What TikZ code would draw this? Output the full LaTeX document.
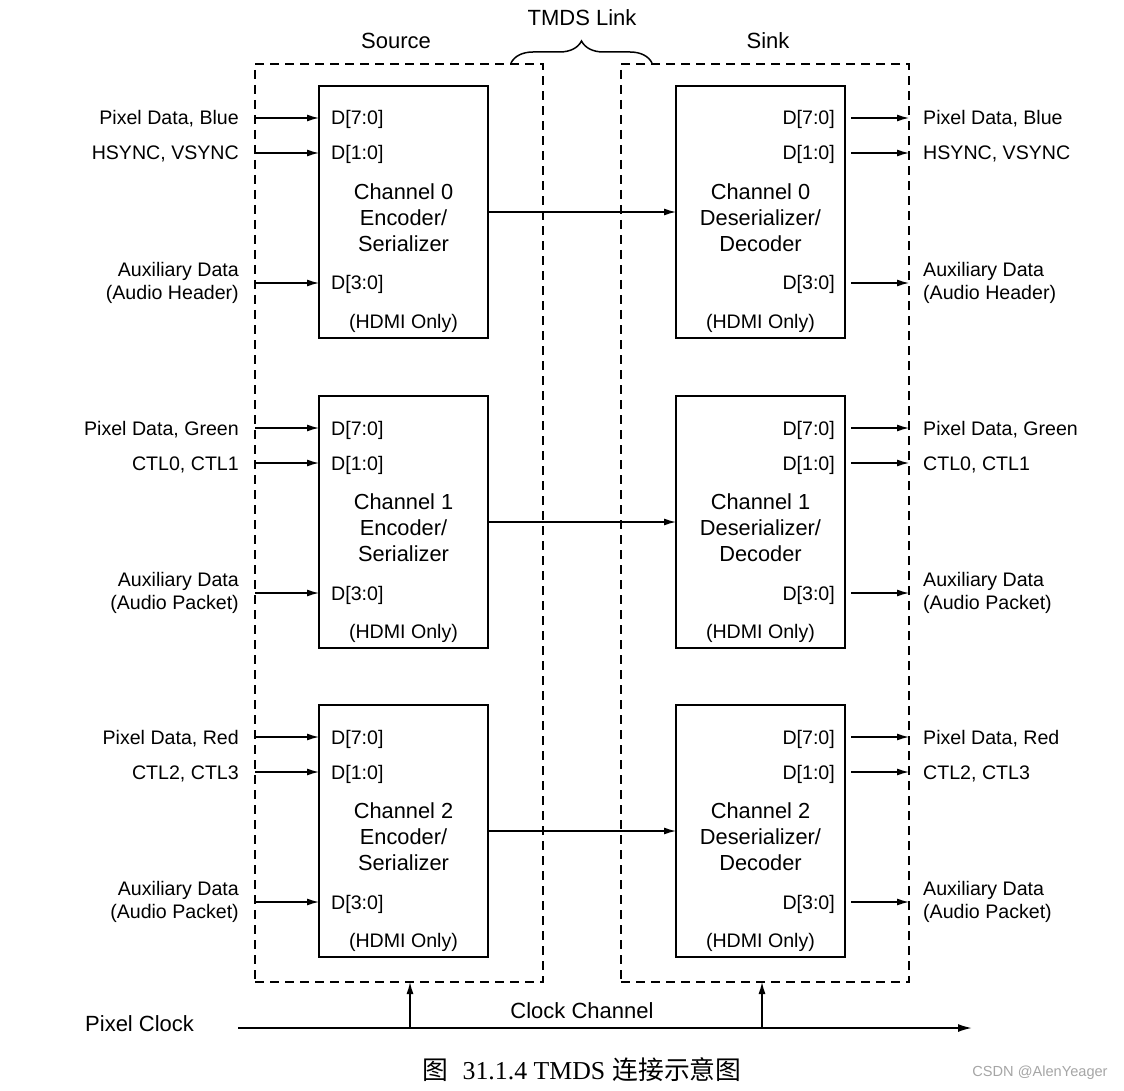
\documentclass[tikz,border=0pt]{standalone}
\usepackage{fontspec}
\setmainfont{Liberation Sans}
\newfontfamily\capserif{Liberation Serif}
\newfontfamily\cjk{Noto Sans CJK SC}
\usetikzlibrary{arrows.meta,decorations.pathreplacing}
\begin{document}
\begin{tikzpicture}[x=1pt,y=-1pt,
  chbox/.style={draw,line width=2.4pt,minimum width=169pt,minimum height=252pt,inner sep=0pt,outer sep=0pt,anchor=north west},
  dbox/.style={draw,line width=2pt,dash pattern=on 9pt off 6pt,minimum width=288pt,minimum height=918pt,inner sep=0pt,outer sep=0pt,anchor=north west},
  sig/.style={-{Latex[length=12pt,width=7pt]},line width=1.3pt},
  lbl/.style={font=\fontsize{19.6}{23}\selectfont,inner sep=0pt,text height=14pt,text depth=0pt},
  lbltwo/.style={font=\fontsize{19.6}{23}\selectfont,inner sep=0pt},
  chtxt/.style={font=\fontsize{21.8}{26}\selectfont,align=center,inner sep=0pt},
  ttl/.style={font=\fontsize{22}{26}\selectfont,inner sep=0pt,text height=16pt,text depth=0pt}]
\useasboundingbox (0,0) rectangle (1124,1091);
\fill[white] (0,0) rectangle (1124,1091);

% outer dashed boxes
\node[dbox] (src) at (255,64) {};
\node[dbox] (snk) at (621,64) {};
\node[ttl] (srct) at (396,41) {Source};
\node[ttl] (snkt) at (768,41) {Sink};
\node[ttl] (tmds) at (582,18) {TMDS Link};
\coordinate (bl) at (511,63);
\coordinate (br) at (652,63);
\draw[line width=1.5pt,decorate,decoration={brace,amplitude=22pt,aspect=0.5}] (bl) -- (br);

\foreach \i/\t/\pa/\pb/\au in {0/86/{Pixel Data, Blue}/{HSYNC, VSYNC}/Header,
                               1/396/{Pixel Data, Green}/{CTL0, CTL1}/Packet,
                               2/705/{Pixel Data, Red}/{CTL2, CTL3}/Packet}{
  % channel boxes
  \node[chbox] (s\i) at (319,\t) {};
  \node[chbox] (k\i) at (676,\t) {};
  \node[chtxt] (st\i) at (403.5,\t+132) {Channel \i\\Encoder/\\Serializer};
  \node[chtxt] (kt\i) at (760.5,\t+132) {Channel \i\\Deserializer/\\Decoder};
  \node[lbl] (sh\i) at (403.5,\t+235) {(HDMI Only)};
  \node[lbl] (kh\i) at (760.5,\t+235) {(HDMI Only)};
  % port labels
  \node[lbl,anchor=west] (sa\i) at (331,\t+32) {D[7:0]};
  \node[lbl,anchor=west] (sb\i) at (331,\t+67) {D[1:0]};
  \node[lbl,anchor=west] (sc\i) at (331,\t+197) {D[3:0]};
  \node[lbl,anchor=east] (ka\i) at (835,\t+32) {D[7:0]};
  \node[lbl,anchor=east] (kb\i) at (835,\t+67) {D[1:0]};
  \node[lbl,anchor=east] (kc\i) at (835,\t+197) {D[3:0]};
  % external labels
  \node[lbl,anchor=east] (la\i) at (239,\t+32) {\pa};
  \node[lbl,anchor=east] (lb\i) at (239,\t+67) {\pb};
  \node[lbltwo,anchor=north east,align=right] (lc\i) at (239,\t+176) {Auxiliary Data\\(Audio \au)};
  \node[lbl,anchor=west] (ra\i) at (923,\t+32) {\pa};
  \node[lbl,anchor=west] (rb\i) at (923,\t+67) {\pb};
  \node[lbltwo,anchor=north west,align=left] (rc\i) at (923,\t+176) {Auxiliary Data\\(Audio \au)};
  % inputs
  \draw[sig] (src.west |- sa\i) -- (s\i.west |- sa\i);
  \draw[sig] (src.west |- sb\i) -- (s\i.west |- sb\i);
  \draw[sig] (src.west |- sc\i) -- (s\i.west |- sc\i);
  % outputs
  \draw[sig,shorten <=6pt] (k\i.east |- ka\i) -- (snk.east |- ka\i);
  \draw[sig,shorten <=6pt] (k\i.east |- kb\i) -- (snk.east |- kb\i);
  \draw[sig,shorten <=6pt] (k\i.east |- kc\i) -- (snk.east |- kc\i);
  % link
  \draw[sig] (s\i.east) -- (k\i.west);
}

% clock
\node[ttl,anchor=west] (pclk) at (85,1023) {Pixel Clock};
\node[ttl] (cch) at (582,1010) {Clock Channel};
\coordinate (cs) at (238,1028);
\coordinate (ce) at (972,1028);
\coordinate (tapa) at (410,1028);
\coordinate (tapb) at (762,1028);
\draw[-{Latex[length=14pt,width=8pt]},line width=1.8pt] (cs) -- (ce);
\draw[sig] (tapa) -- (tapa |- src.south);
\draw[sig] (tapb) -- (tapb |- snk.south);

% caption
\node[font=\fontsize{25.8}{30}\selectfont,inner sep=0pt] (cap) at (582,1070) {{\cjk 图}\ \ {\capserif 31.1.4 TMDS} {\cjk 连接示意图}};
\node[font=\fontsize{14.6}{17}\selectfont,text=black!35,inner sep=0pt] (wm) at (1040,1073) {CSDN @AlenYeager};
\end{tikzpicture}
\end{document}
